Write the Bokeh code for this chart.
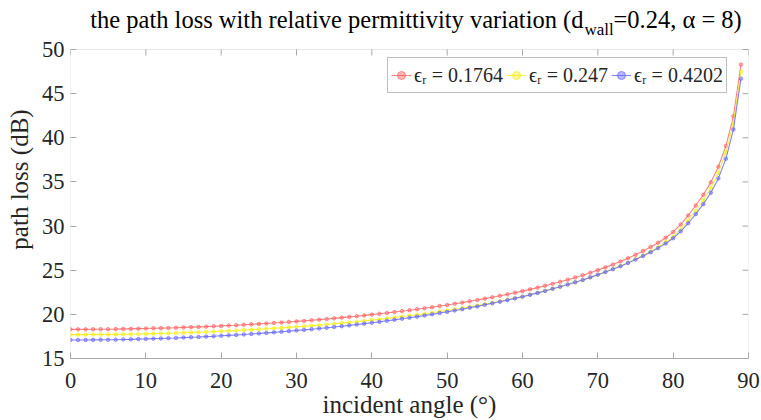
from bokeh.plotting import figure
from bokeh.models import Label, Range1d, Legend, LegendItem, BoxAnnotation
from bokeh.embed import file_html
from bokeh.resources import INLINE

# ---------------- data ----------------
angle_deg = list(range(90))

loss_er_0_1764 = [18.30, 18.30, 18.30, 18.31, 18.32, 18.32, 18.33, 18.35, 18.36, 18.38,
                  18.40, 18.42, 18.44, 18.46, 18.49, 18.52, 18.55, 18.58, 18.61, 18.65,
                  18.69, 18.73, 18.77, 18.82, 18.87, 18.92, 18.97, 19.02, 19.08, 19.14,
                  19.20, 19.26, 19.33, 19.40, 19.47, 19.55, 19.63, 19.71, 19.79, 19.88,
                  19.97, 20.06, 20.16, 20.26, 20.36, 20.47, 20.58, 20.69, 20.81, 20.94,
                  21.06, 21.20, 21.33, 21.48, 21.62, 21.78, 21.94, 22.10, 22.27, 22.45,
                  22.63, 22.83, 23.03, 23.24, 23.46, 23.69, 23.93, 24.18, 24.44, 24.72,
                  25.01, 25.32, 25.64, 25.99, 26.36, 26.75, 27.18, 27.63, 28.12, 28.68,
                  29.34, 30.18, 31.20, 32.33, 33.55, 34.95, 36.72, 39.08, 42.45, 48.30]

loss_er_0_247 = [17.70, 17.70, 17.70, 17.71, 17.72, 17.72, 17.73, 17.74, 17.75, 17.77,
                 17.79, 17.82, 17.83, 17.86, 17.88, 17.92, 17.95, 17.98, 18.01, 18.05,
                 18.09, 18.13, 18.17, 18.22, 18.27, 18.32, 18.37, 18.42, 18.47, 18.53,
                 18.59, 18.65, 18.72, 18.78, 18.85, 18.93, 19.01, 19.09, 19.17, 19.26,
                 19.35, 19.43, 19.54, 19.63, 19.74, 19.84, 19.95, 20.06, 20.18, 20.31,
                 20.43, 20.58, 20.70, 20.86, 20.99, 21.16, 21.32, 21.49, 21.66, 21.85,
                 22.03, 22.23, 22.45, 22.66, 22.90, 23.13, 23.38, 23.64, 23.90, 24.19,
                 24.49, 24.80, 25.13, 25.47, 25.85, 26.24, 26.67, 27.11, 27.60, 28.17,
                 28.80, 29.64, 30.62, 31.71, 32.92, 34.30, 36.02, 38.34, 41.71, 47.50]

loss_er_0_4202 = [17.10, 17.10, 17.10, 17.11, 17.12, 17.12, 17.13, 17.16, 17.17, 17.20,
                  17.22, 17.25, 17.27, 17.30, 17.33, 17.37, 17.41, 17.44, 17.48, 17.52,
                  17.57, 17.62, 17.67, 17.72, 17.78, 17.84, 17.90, 17.96, 18.03, 18.10,
                  18.17, 18.24, 18.32, 18.40, 18.48, 18.57, 18.66, 18.75, 18.85, 18.95,
                  19.05, 19.15, 19.27, 19.38, 19.50, 19.62, 19.74, 19.87, 20.00, 20.15,
                  20.28, 20.44, 20.58, 20.75, 20.90, 21.08, 21.25, 21.43, 21.61, 21.81,
                  22.00, 22.21, 22.43, 22.65, 22.89, 23.13, 23.38, 23.64, 23.90, 24.19,
                  24.49, 24.79, 25.11, 25.45, 25.82, 26.20, 26.61, 27.03, 27.50, 28.03,
                  28.62, 29.40, 30.32, 31.35, 32.48, 33.78, 35.40, 37.62, 40.95, 46.70]

series_labels = ["ϵᵣ = 0.1764", "ϵᵣ = 0.247", "ϵᵣ = 0.4202"]
series_colors = ["#ff6060", "#f2ee10", "#6464ff"]

x_ticks = [0, 10, 20, 30, 40, 50, 60, 70, 80, 90]
y_ticks = [15, 20, 25, 30, 35, 40, 45, 50]
x_min, x_max = 0, 90
y_min, y_max = 15, 50

title_main = "the path loss with relative permittivity variation (d"
title_sub = "wall"
title_rest = "=0.24, α = 8)"
x_label = "incident angle (°)"
y_label = "path loss (dB)"

FONT = "Liberation Serif"
AXIS_GRAY = "#a8a8a8"
TEXT_GRAY = "#262626"

# layout (pixels)
W, H = 761, 420
BORDER_LEFT, BORDER_RIGHT, BORDER_BOTTOM = 70, 13, 62
BOX_TOP_PX = 49
frame_h = H - BORDER_BOTTOM
PX_PER_UNIT_Y = (frame_h - BOX_TOP_PX) / float(y_max - y_min)
PX_PER_UNIT_X = (W - BORDER_LEFT - BORDER_RIGHT) / float(x_max - x_min)
# frame extends up to the canvas top so the title labels sit inside it;
# the visible axes box is drawn separately at the real limits
y_top_extended = y_max + BOX_TOP_PX / PX_PER_UNIT_Y

p = figure(width=W, height=H, output_backend="svg", toolbar_location=None,
           x_range=Range1d(x_min, x_max), y_range=Range1d(y_min, y_top_extended),
           min_border_left=BORDER_LEFT, min_border_right=BORDER_RIGHT,
           min_border_top=0, min_border_bottom=BORDER_BOTTOM)
p.background_fill_color = "white"
p.border_fill_color = "white"
p.outline_line_color = None
p.grid.visible = False

for ax in (p.xaxis[0], p.yaxis[0]):
    ax.axis_line_color = AXIS_GRAY
    ax.major_tick_line_color = AXIS_GRAY
    ax.major_tick_in = 6
    ax.major_tick_out = 0
    ax.minor_tick_line_color = None
    ax.major_label_text_font = FONT
    ax.major_label_text_font_size = "22.5px"
    ax.major_label_text_color = TEXT_GRAY
    ax.axis_label_text_font = FONT
    ax.axis_label_text_font_size = "25px"
    ax.axis_label_text_font_style = "normal"
    ax.axis_label_text_color = TEXT_GRAY

p.yaxis.axis_line_color = None
p.xaxis.ticker = x_ticks
p.yaxis.ticker = y_ticks
p.xaxis.axis_label = x_label
p.yaxis.axis_label = y_label
p.xaxis.major_label_standoff = 14
p.xaxis.major_label_text_line_height = 0.9
p.xaxis.axis_label_text_line_height = 0.9
p.yaxis.major_label_standoff = 6
p.xaxis.axis_label_standoff = 0
p.yaxis.axis_label_standoff = 6

# axes box (MATLAB "box on")
p.add_layout(BoxAnnotation(left=x_min, right=x_max, bottom=y_min, top=y_max,
                           fill_color=None, fill_alpha=0, line_color=AXIS_GRAY,
                           line_width=1, level="underlay"))

# mirrored inward ticks on the top and right edges
tick_dx = 6 / PX_PER_UNIT_X
tick_dy = 6 / PX_PER_UNIT_Y
p.segment(x0=x_ticks, y0=[y_max] * len(x_ticks), x1=x_ticks, y1=[y_max - tick_dy] * len(x_ticks),
          line_color=AXIS_GRAY, line_width=1)
p.segment(x0=[x_max] * len(y_ticks), y0=y_ticks, x1=[x_max - tick_dx] * len(y_ticks), y1=y_ticks,
          line_color=AXIS_GRAY, line_width=1)

# ---------------- series ----------------
items = []
for vals, col, lab in zip([loss_er_0_1764, loss_er_0_247, loss_er_0_4202], series_colors, series_labels):
    lr = p.line(angle_deg, vals, line_color=col, line_width=1.1, line_alpha=0.8)
    sr = p.scatter(angle_deg, vals, marker="circle", size=3.5, fill_color=col, fill_alpha=0.45,
                   line_color=col, line_alpha=0.65)
    items.append(LegendItem(label=lab, renderers=[lr, sr]))

legend = Legend(items=items, orientation="horizontal", location=(317, frame_h - 93),
                label_text_font=FONT, label_text_font_size="20px", label_text_color=TEXT_GRAY,
                glyph_width=20, label_standoff=3, spacing=3, padding=3, label_height=28,
                border_line_color="#7f7f7f", border_line_width=1,
                background_fill_color="white", background_fill_alpha=1.0)
p.add_layout(legend)

# ---------------- title with subscript ----------------
def px_to_x(px):
    return x_min + (px - BORDER_LEFT) / PX_PER_UNIT_X

def py_to_y(py):
    return y_min + (frame_h - py) / PX_PER_UNIT_Y

p.add_layout(Label(x=px_to_x(583), y=py_to_y(19), text=title_main, text_align="right",
                   text_baseline="alphabetic", text_font=FONT, text_font_size="24.5px",
                   text_color="#000000"))
p.add_layout(Label(x=px_to_x(584), y=py_to_y(29), text=title_sub, text_align="left",
                   text_baseline="alphabetic", text_font=FONT, text_font_size="17px",
                   text_color="#000000"))
p.add_layout(Label(x=px_to_x(613), y=py_to_y(19), text=title_rest, text_align="left",
                   text_baseline="alphabetic", text_font=FONT, text_font_size="24.5px",
                   text_color="#000000"))

open("out.html", "w").write(file_html(p, INLINE))
